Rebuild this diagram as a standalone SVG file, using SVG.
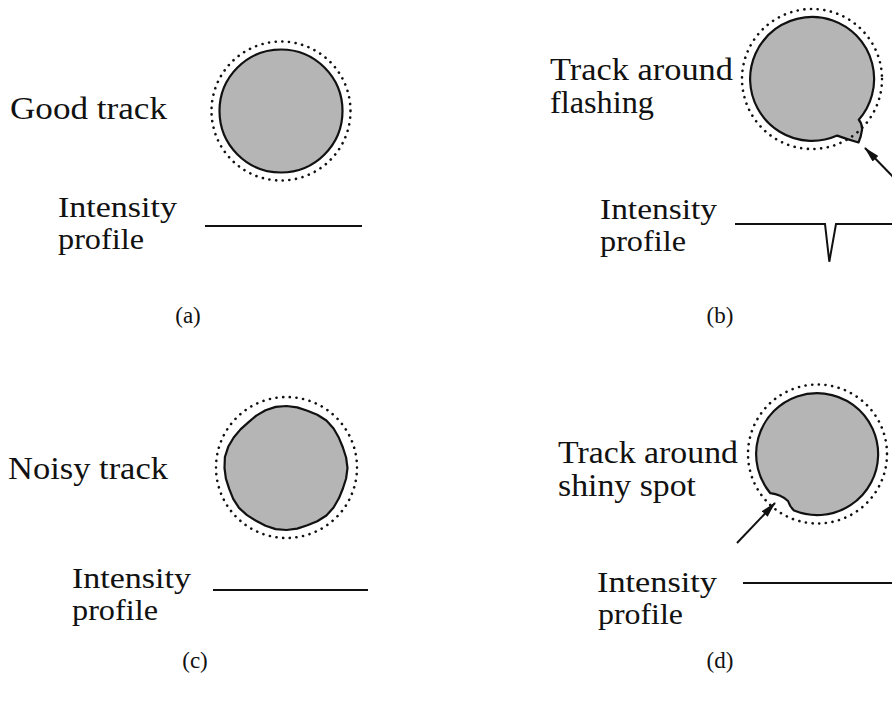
<svg xmlns="http://www.w3.org/2000/svg" width="892" height="705" viewBox="0 0 892 705">
<style>
.t{font-family:"Liberation Serif","DejaVu Serif",serif;font-size:32px;fill:#111}
.s{font-family:"Liberation Serif","DejaVu Serif",serif;font-size:29px;fill:#111}
.lab{font-family:"Liberation Serif","DejaVu Serif",serif;font-size:23px;fill:#111;text-anchor:middle}
.disk{fill:#b5b5b5;stroke:#111;stroke-width:2.2;stroke-linejoin:round}
.dot{fill:none;stroke:#111;stroke-width:2.6;stroke-dasharray:0.1 6.6;stroke-linecap:round}
.prof{fill:none;stroke:#111;stroke-width:2}
.arr{stroke:#111;stroke-width:2;marker-end:url(#ah)}
</style>
<defs>
<marker id="ah" viewBox="0 0 16 8" refX="15" refY="4" markerWidth="16" markerHeight="8" markerUnits="userSpaceOnUse" orient="auto">
<path d="M0,0 L16,4 L0,8 Z" fill="#111"/>
</marker>
</defs>
<rect width="892" height="705" fill="#fff"/>

<g id="panel-a">
<text class="t" x="10" y="119" textLength="157" lengthAdjust="spacingAndGlyphs">Good track</text>
<circle class="disk" cx="281" cy="111" r="61.5"/>
<circle class="dot" cx="281" cy="111" r="69.5"/>
<text class="s" x="58" y="217" textLength="119" lengthAdjust="spacingAndGlyphs">Intensity</text>
<text class="s" x="58" y="249" textLength="86" lengthAdjust="spacingAndGlyphs">profile</text>
<path class="prof" d="M205,226 H362"/>
<text class="lab" x="188" y="323">(a)</text>
</g>

<g id="panel-b">
<text class="t" x="550" y="80" textLength="183" lengthAdjust="spacingAndGlyphs">Track around</text>
<text class="t" x="550" y="113" textLength="104" lengthAdjust="spacingAndGlyphs">flashing</text>
<path class="disk" d="M837.2,135.6 A62,62 0 1 1 858.8,119.7 Q862.5,124 862,130 Q861,137 858.5,142.5 Q848,139.5 837.2,135.6 Z"/>
<circle class="dot" cx="812" cy="79" r="70"/>
<text class="s" x="600" y="219" textLength="117" lengthAdjust="spacingAndGlyphs">Intensity</text>
<text class="s" x="600" y="251" textLength="86" lengthAdjust="spacingAndGlyphs">profile</text>
<path class="prof" d="M735,224 H825 L829.3,261.7 L836,224 H892"/>
<text class="lab" x="720" y="323">(b)</text>
</g>

<g id="panel-c">
<text class="t" x="8" y="479" textLength="160" lengthAdjust="spacingAndGlyphs">Noisy track</text>
<path class="disk" d="M347.5,468 L346.1,478.5 L342.9,488.5 L338.9,498.3 L333.6,507.5 L326.4,515.5 L317.3,521.3 L307.4,525.3 L297.2,528.6 L286.5,530 L275.7,529.1 L265.5,525.8 L256,520.8 L247,515.1 L239,507.9 L233.2,498.8 L229.2,488.9 L225.9,478.7 L224.5,468 L224.9,457.2 L228.2,446.8 L233.7,437.5 L240.5,429.4 L248.3,422.4 L256.3,415.6 L265.5,410.2 L275.7,406.9 L286.5,406 L297.2,407.4 L307.4,410.7 L317.3,414.7 L326.4,420.5 L333.6,428.5 L338.9,437.8 L342.9,447.5 L346.1,457.5 Z"/>
<circle class="dot" cx="286.5" cy="467.5" r="70.5"/>
<text class="s" x="72" y="588" textLength="119" lengthAdjust="spacingAndGlyphs">Intensity</text>
<text class="s" x="72" y="620" textLength="86" lengthAdjust="spacingAndGlyphs">profile</text>
<path class="prof" d="M213,590 H368"/>
<text class="lab" x="195" y="668">(c)</text>
</g>

<g id="panel-d">
<text class="t" x="558" y="463" textLength="180" lengthAdjust="spacingAndGlyphs">Track around</text>
<text class="t" x="558" y="496" textLength="138" lengthAdjust="spacingAndGlyphs">shiny spot</text>
<path class="disk" d="M770.3,493.2 A61,61 0 1 1 794.1,510.6 Q790,507 788,501 Q781,494.5 770.3,493.2 Z"/>
<circle class="dot" cx="817.5" cy="454" r="69.5"/>
<text class="s" x="597" y="592" textLength="120" lengthAdjust="spacingAndGlyphs">Intensity</text>
<text class="s" x="598" y="624" textLength="85" lengthAdjust="spacingAndGlyphs">profile</text>
<path class="prof" d="M743,583 H892"/>
<text class="lab" x="720" y="668">(d)</text>
</g>

<g id="connectors">
<line class="arr" x1="902" y1="186" x2="865" y2="148"/>
<line class="arr" x1="737" y1="543" x2="775" y2="503"/>
</g>
</svg>
